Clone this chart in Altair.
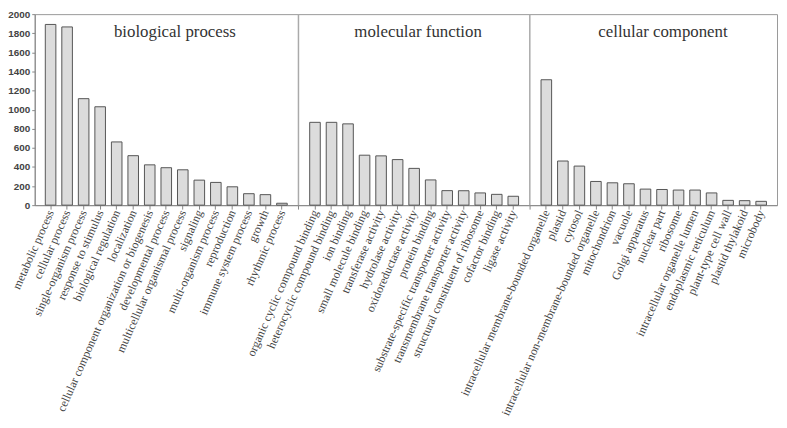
import altair as alt
import pandas as pd

bp_terms = ["metabolic process", "cellular process", "single-organism process",
            "response to stimulus", "biological regulation", "localization",
            "cellular component organization or biogenesis", "developmental process",
            "multicellular organismal process", "signaling", "multi-organism process",
            "reproduction", "immune system process", "growth", "rhythmic process"]
bp_counts = [1892, 1866, 1115, 1030, 662, 518, 422, 392, 370, 262, 238, 192, 120, 110, 20]

mf_terms = ["organic cyclic compound binding", "heterocyclic compound binding",
            "ion binding", "small molecule binding", "transferase activity",
            "hydrolase activity", "oxidoreductase activity", "protein binding",
            "substrate-specific transporter activity", "transmembrane transporter activity",
            "structural constituent of ribosome", "cofactor binding", "ligase activity"]
mf_counts = [867, 867, 851, 523, 516, 477, 385, 264, 152, 151, 128, 113, 93]

cc_terms = ["intracellular membrane-bounded organelle", "plastid", "cytosol",
            "intracellular non-membrane-bounded organelle", "mitochondrion", "vacuole",
            "Golgi apparatus", "nuclear part", "ribosome", "intracellular organelle lumen",
            "endoplasmic reticulum", "plant-type cell wall", "plastid thylakoid", "microbody"]
cc_counts = [1313, 462, 409, 248, 234, 224, 168, 164, 158, 158, 128, 50, 47, 40]

group_titles = ["biological process", "molecular function", "cellular component"]
separators = ["sep_1", "sep_2"]
y_ticks = [0, 200, 400, 600, 800, 1000, 1200, 1400, 1600, 1800, 2000]

order = bp_terms + [separators[0]] + mf_terms + [separators[1]] + cc_terms
rows = [{"term": t, "count": c} for t, c in zip(bp_terms, bp_counts)]
rows += [{"term": t, "count": c} for t, c in zip(mf_terms, mf_counts)]
rows += [{"term": t, "count": c} for t, c in zip(cc_terms, cc_counts)]
df = pd.DataFrame(rows)
sep_df = pd.DataFrame({"term": separators, "lo": [0, 0], "hi": [2000, 2000]})

x_scale = alt.Scale(domain=order, paddingInner=0.36, paddingOuter=0.64)
y_scale = alt.Scale(domain=[0, 2000], nice=False)

x_axis = alt.Axis(
    title=None, labelAngle=-66, labelAlign="right", labelBaseline="middle",
    labelFont="Liberation Serif", labelFontSize=12, labelColor="#444",
    labelLimit=400, labelPadding=1, tickSize=4, tickColor="#888",
    domainColor="#888", labelOverlap=False,
    labelExpr="indexof(datum.label, 'sep_') == 0 ? '' : datum.label")
y_axis = alt.Axis(
    title=None, values=y_ticks, grid=False, format="d",
    labelOverlap=False, labelFlush=False,
    labelFont="Liberation Sans", labelFontSize=10, labelFontWeight="bold",
    labelColor="#444", tickSize=3, tickColor="#888", domainColor="#888",
    labelPadding=2)

bars = alt.Chart(df).mark_bar(fill="#dcdcdc", stroke="#555", strokeWidth=1).encode(
    x=alt.X("term:N", scale=x_scale, axis=x_axis, sort=order),
    y=alt.Y("count:Q", scale=y_scale, axis=y_axis),
)

seps = alt.Chart(sep_df).mark_rule(color="#aaa", strokeWidth=1.5).encode(
    x=alt.X("term:N", scale=x_scale, axis=x_axis, sort=order),
    y=alt.Y("lo:Q", scale=y_scale, axis=y_axis),
    y2="hi:Q",
)

title_anchor = [bp_terms[8], mf_terms[6], cc_terms[7]]
title_dx = [-8, 4, 1]
title_y = [1810, 1810, 1810]
title_layers = []
for t, a, d, yv in zip(group_titles, title_anchor, title_dx, title_y):
    title_layers.append(
        alt.Chart(pd.DataFrame({"term": [a], "title": [t], "ypos": [yv]})).mark_text(
            font="Liberation Serif", fontSize=17, color="#333",
            align="center", baseline="middle", dx=d
        ).encode(
            x=alt.X("term:N", scale=x_scale, axis=x_axis, sort=order),
            y=alt.Y("ypos:Q", scale=y_scale, axis=y_axis),
            text="title:N",
        )
    )

chart = alt.layer(bars, seps, *title_layers).properties(
    width=750, height=193,
    autosize=alt.AutoSizeParams(type="none"),
    padding={"left": 27, "top": 4, "right": 2, "bottom": 226},
).configure_view(stroke="#999", strokeWidth=1)

chart.save("out.html", embed_options={"renderer": "svg", "actions": False})
